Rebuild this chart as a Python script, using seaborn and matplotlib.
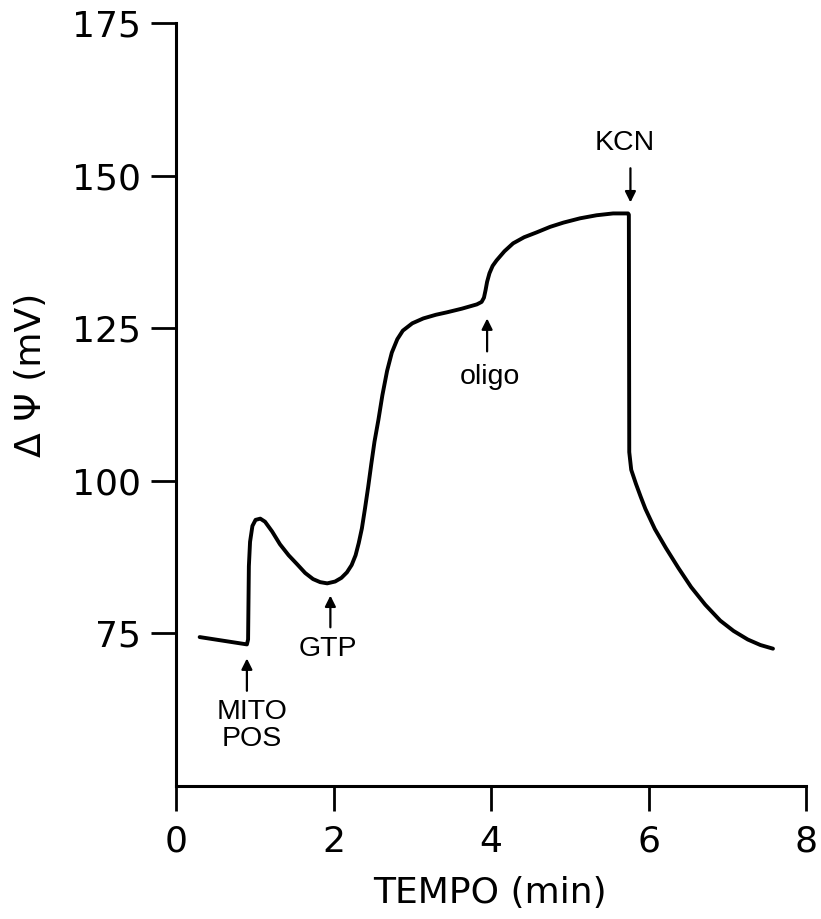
import matplotlib
matplotlib.use("Agg")
import matplotlib.pyplot as plt
import seaborn as sns
import pandas as pd

# ---- data ----
tempo_min = [0.30, 0.90, 0.915, 0.92, 0.925, 0.94, 0.97, 1.01, 1.07, 1.13, 1.22, 1.32,
             1.43, 1.54, 1.64, 1.74, 1.83, 1.92, 2.02, 2.10, 2.17, 2.23, 2.28, 2.32,
             2.36, 2.40, 2.44, 2.48, 2.52, 2.57, 2.62, 2.68, 2.74, 2.81, 2.88, 3.00,
             3.14, 3.30, 3.44, 3.63, 3.82, 3.88, 3.91, 3.93, 3.95, 3.98, 4.02, 4.07,
             4.17, 4.28, 4.42, 4.58, 4.75, 4.92, 5.13, 5.34, 5.55, 5.74,
             5.75, 5.755, 5.78, 5.84, 5.90, 5.96, 6.08, 6.22, 6.38, 6.54, 6.72,
             6.91, 7.08, 7.26, 7.42, 7.58]
delta_psi_mV = [74.4, 73.2, 74.0, 80.0, 86.0, 90.0, 92.6, 93.6, 93.8, 93.3, 91.7, 89.6,
                87.8, 86.3, 84.9, 83.9, 83.4, 83.2, 83.5, 84.1, 85.0, 86.2, 87.8, 89.8,
                92.2, 95.5, 99.0, 102.8, 106.4, 110.0, 114.0, 118.0, 121.0, 123.2, 124.6, 125.8,
                126.6, 127.2, 127.6, 128.2, 128.9, 129.3, 130.0, 131.2, 132.6, 134.0, 135.2, 136.1,
                137.6, 138.9, 139.9, 140.7, 141.6, 142.3, 143.0, 143.5, 143.8, 143.8,
                143.6, 104.7, 101.8, 99.5, 97.4, 95.4, 92.1, 89.0, 85.7, 82.6, 79.7,
                77.1, 75.4, 74.0, 73.1, 72.5]

x_ticks = [0, 2, 4, 6, 8]
x_tick_labels = ["0", "2", "4", "6", "8"]
y_ticks = [75, 100, 125, 150, 175]
y_tick_labels = ["75", "100", "125", "150", "175"]

event_labels = ["MITO\nPOS", "GTP", "oligo", "KCN"]

df = pd.DataFrame({"tempo": tempo_min, "psi": delta_psi_mV})

sns.set_style("ticks")
plt.rcParams["font.family"] = ["DejaVu Sans"]
plt.rcParams["text.color"] = "black"
plt.rcParams["axes.labelcolor"] = "black"

fig = plt.figure(figsize=(8.21, 9.19), dpi=100)
ax = fig.add_axes([0.2144, 0.1447, 0.7674, 0.8303])

sns.lineplot(data=df, x="tempo", y="psi", sort=False, estimator=None,
             color="black", linewidth=2.8, ax=ax)
ax.lines[0].set_solid_joinstyle("round")
ax.lines[0].set_solid_capstyle("round")

ax.set_xlim(0, 8)
ax.set_ylim(50, 175)
ax.set_xticks(x_ticks)
ax.set_xticklabels(x_tick_labels)
ax.set_yticks(y_ticks)
ax.set_yticklabels(y_tick_labels)
sns.despine(ax=ax)
for s in ["left", "bottom"]:
    ax.spines[s].set_linewidth(2.2)
    ax.spines[s].set_color("black")
ax.tick_params(axis="both", direction="out", length=18, width=2.0,
               labelsize=26, colors="black")
ax.tick_params(axis="x", pad=10)
ax.tick_params(axis="y", pad=7)

ax.set_xlabel("TEMPO (min)", fontsize=26, color="black")
ax.set_ylabel("Δ Ψ (mV)", fontsize=26, color="black")
ax.xaxis.set_label_coords(0.498, -0.118)
ax.yaxis.set_label_coords(-0.203, 0.539)

arrow_kw = dict(arrowstyle="-|>", lw=1.6, color="black", mutation_scale=16,
                shrinkA=0, shrinkB=0)
ann_font = dict(fontsize=20.5, family="Liberation Sans", color="black")

# MITO POS
ax.annotate("", xy=(0.90, 70.9), xytext=(0.90, 65.6), arrowprops=arrow_kw)
ax.text(0.96, 64.2, event_labels[0], ha="center", va="top", linespacing=1.05, **ann_font)
# GTP
ax.annotate("", xy=(1.96, 81.2), xytext=(1.96, 76.0), arrowprops=arrow_kw)
ax.text(1.93, 72.4, event_labels[1], ha="center", va="center", **ann_font)
# oligo
ax.annotate("", xy=(3.95, 126.6), xytext=(3.95, 121.2), arrowprops=arrow_kw)
ax.text(3.99, 119.2, event_labels[2], ha="center", va="top", **ann_font)
# KCN
ax.annotate("", xy=(5.77, 145.6), xytext=(5.77, 151.2), arrowprops=arrow_kw)
ax.text(5.70, 155.3, event_labels[3], ha="center", va="center", **ann_font)

fig.savefig("out.png", dpi=100)
